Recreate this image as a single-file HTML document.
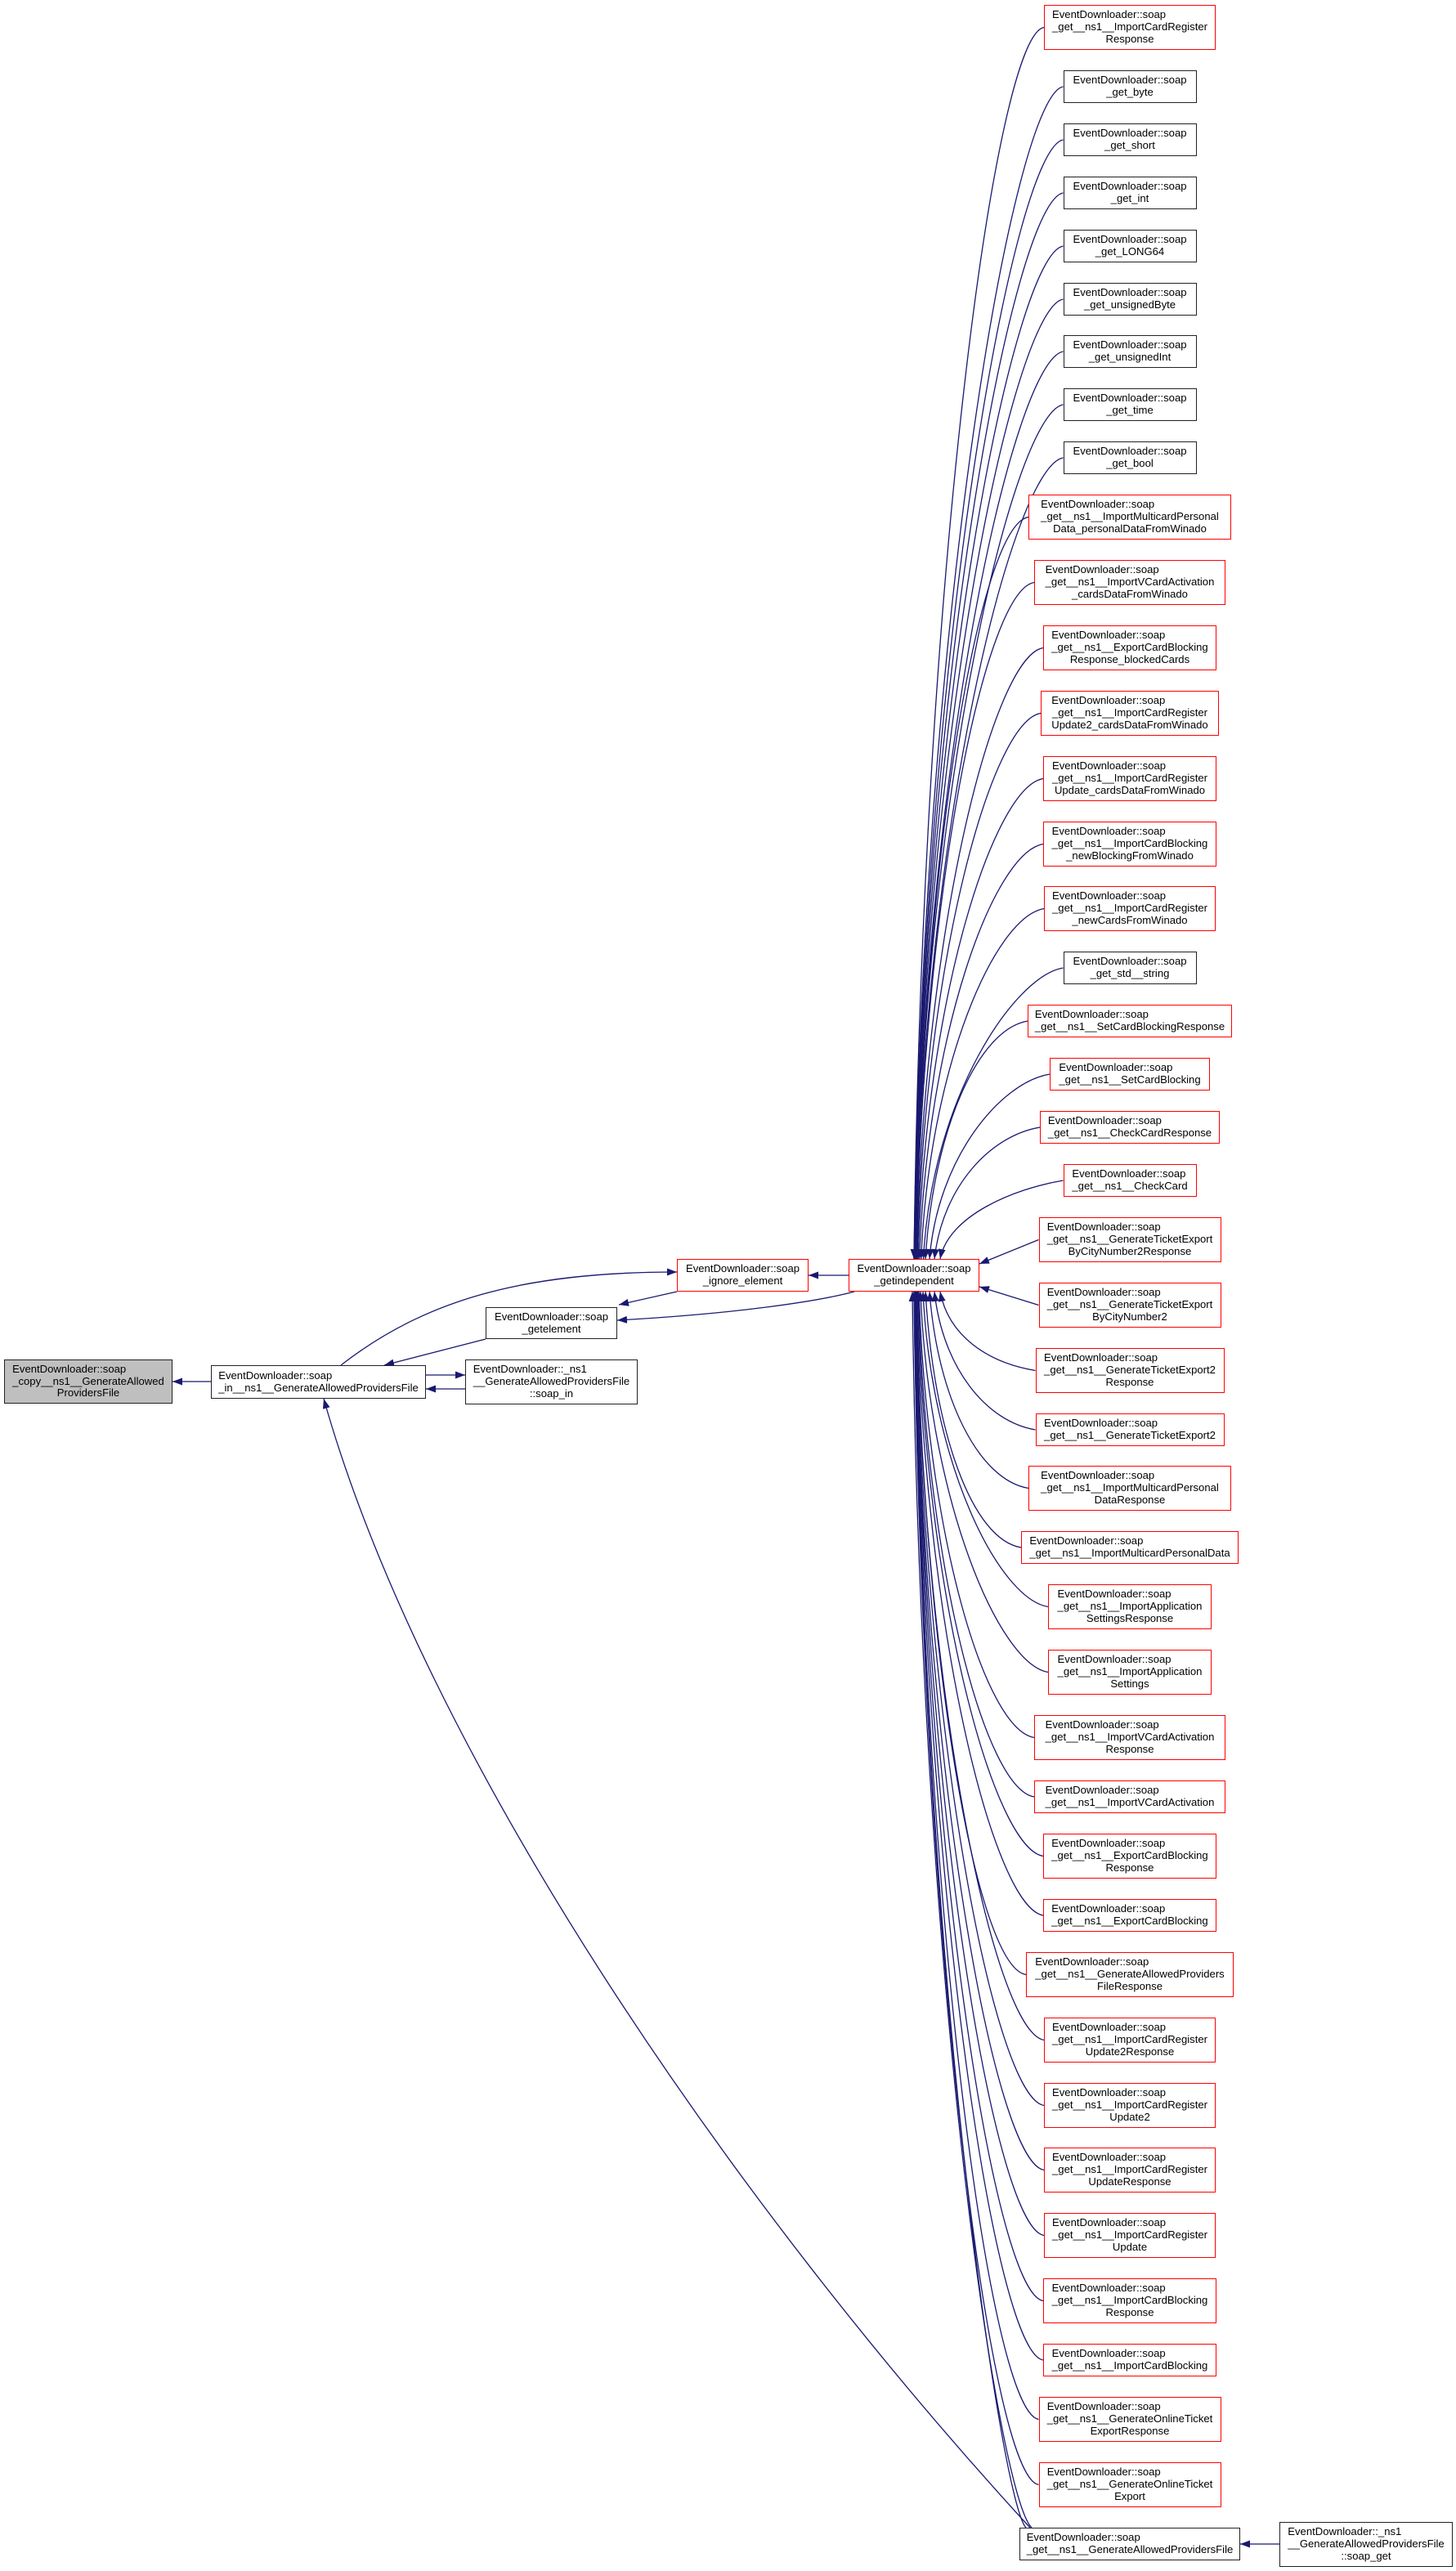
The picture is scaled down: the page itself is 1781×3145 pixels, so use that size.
<!DOCTYPE html>
<html><head><meta charset="utf-8">
<style>
html,body{margin:0;padding:0;background:#fff;}
body{width:1781px;height:3145px;position:relative;overflow:hidden;font-family:"Liberation Sans",Arial,sans-serif;font-size:13.1px;color:#000;}
svg{position:absolute;left:0;top:0;}
.n{position:absolute;box-sizing:border-box;background:#fff;border:1.2px solid #222;display:flex;align-items:center;justify-content:center;white-space:nowrap;line-height:14.7px;}
.r{border-color:#ff0000;}
.g{background:#bfbfbf;}
.t{display:inline-block;}
.t div{text-align:center;}
.t div.a{text-align:left;}
</style></head><body>
<svg width="1781" height="3145" viewBox="0 0 1781 3145">
<defs><marker id="a" viewBox="0 0 12 9" refX="12" refY="4.5" markerWidth="12" markerHeight="9" markerUnits="userSpaceOnUse" orient="auto"><path d="M0,0L12,4.5L0,9z" fill="#191970"/></marker></defs>
<g fill="none" stroke="#191970" stroke-width="1.3" marker-end="url(#a)">
<path d="M258,1690 L211,1690"/>
<path d="M417,1670 C520,1590 640,1556 828,1556"/>
<path d="M594,1638 L470,1670"/>
<path d="M521,1682 L569,1682"/>
<path d="M569,1699 L521,1699"/>
<path d="M828,1580 L757,1596"/>
<path d="M1045,1580 C1000,1592 900,1607 755,1615"/>
<path d="M1038,1560 L989,1560"/>
<path d="M1260,3092 C900,2700 520,2150 396,1711"/>
<path d="M1565,3112 L1517,3112"/>
<path d="M1270.5,1516.5 L1198,1546"/>
<path d="M1270.5,1596.5 L1198,1574"/>
<path d="M1277,33.5 C1217,43.5 1128,711 1118,1540"/>
<path d="M1300.5,106 C1240.5,116 1128,751 1118,1540"/>
<path d="M1300.5,171 C1240.5,181 1128.4,787 1118.4,1540"/>
<path d="M1300.5,236 C1240.5,246 1128.5,823 1118.5,1540"/>
<path d="M1300.5,301 C1240.5,311 1128.6,859 1118.6,1540"/>
<path d="M1300.5,366 C1240.5,376 1128.7,894 1118.7,1540"/>
<path d="M1300.5,430 C1240.5,440 1128.9,930 1118.9,1540"/>
<path d="M1300.5,495 C1240.5,505 1129.1,965 1119.1,1540"/>
<path d="M1300.5,560 C1240.5,570 1129.4,1001 1119.4,1540"/>
<path d="M1258,632.5 C1198,642.5 1129.8,1041 1119.8,1540"/>
<path d="M1265,712.5 C1205,722.5 1130.3,1085 1120.3,1540"/>
<path d="M1276,792.5 C1216,802.5 1131,1129 1121,1540"/>
<path d="M1273,872.5 C1213,882.5 1131.9,1173 1121.9,1540"/>
<path d="M1276,952.5 C1216,962.5 1133,1217 1123,1540"/>
<path d="M1276,1032.5 C1216,1042.5 1134.6,1261 1124.6,1540"/>
<path d="M1277,1111.5 C1217,1121.5 1136.7,1304 1126.7,1540"/>
<path d="M1300.5,1184 C1240.5,1194 1139.5,1344 1129.5,1540"/>
<path d="M1257,1249 C1197,1259 1142,1380 1132,1540"/>
<path d="M1284,1314 C1224,1324 1147,1416 1137,1540"/>
<path d="M1272,1379 C1212,1389 1153,1451 1143,1540"/>
<path d="M1300.5,1444 C1240.5,1454 1160,1487 1150,1540"/>
<path d="M1266.5,1676.5 C1206.5,1666.5 1160,1633 1150,1580"/>
<path d="M1266.5,1749 C1206.5,1739 1153,1673 1143,1580"/>
<path d="M1258,1820.5 C1198,1810.5 1147,1712 1137,1580"/>
<path d="M1249,1893 C1189,1883 1142,1752 1132,1580"/>
<path d="M1282,1965.5 C1222,1955.5 1139,1792 1129,1580"/>
<path d="M1282,2045.5 C1222,2035.5 1136,1836 1126,1580"/>
<path d="M1265,2125.5 C1205,2115.5 1134,1880 1124,1580"/>
<path d="M1265,2198 C1205,2188 1133,1920 1123,1580"/>
<path d="M1276,2270.5 C1216,2260.5 1132,1960 1122,1580"/>
<path d="M1276,2343 C1216,2333 1131,2000 1121,1580"/>
<path d="M1255,2415.5 C1195,2405.5 1130.5,2040 1120.5,1580"/>
<path d="M1277,2495.5 C1217,2485.5 1130,2083 1120,1580"/>
<path d="M1277,2575.5 C1217,2565.5 1129.5,2128 1119.5,1580"/>
<path d="M1277,2654.5 C1217,2644.5 1129,2171 1119,1580"/>
<path d="M1277,2734.5 C1217,2724.5 1129,2215 1119,1580"/>
<path d="M1276,2814.5 C1216,2804.5 1129,2259 1119,1580"/>
<path d="M1276,2887 C1216,2877 1128.5,2299 1118.5,1580"/>
<path d="M1270.5,2959.5 C1210.5,2949.5 1128.5,2339 1118.5,1580"/>
<path d="M1270.5,3039.5 C1210.5,3029.5 1128,2383 1118,1580"/>
<path d="M1255,3092 C1225,3062 1128,2412 1118,1580"/>
<path d="M1262,3092 C1222,3055 1126,2430 1116,1580"/>
</g>
</svg>

<div class="n g" style="left:5px;top:1663px;width:206px;height:54px"><div class="t"><div class="a">EventDownloader::soap</div><div>_copy__ns1__GenerateAllowed</div><div>ProvidersFile</div></div></div>
<div class="n" style="left:258px;top:1670px;width:263px;height:41px"><div class="t"><div class="a">EventDownloader::soap</div><div>_in__ns1__GenerateAllowedProvidersFile</div></div></div>
<div class="n" style="left:594px;top:1599px;width:161px;height:39px"><div class="t"><div class="a">EventDownloader::soap</div><div>_getelement</div></div></div>
<div class="n" style="left:569px;top:1663px;width:211px;height:55px"><div class="t"><div class="a">EventDownloader::_ns1</div><div>__GenerateAllowedProvidersFile</div><div>::soap_in</div></div></div>
<div class="n r" style="left:828px;top:1540px;width:161px;height:40px"><div class="t"><div class="a">EventDownloader::soap</div><div>_ignore_element</div></div></div>
<div class="n r" style="left:1038px;top:1540px;width:160px;height:40px"><div class="t"><div class="a">EventDownloader::soap</div><div>_getindependent</div></div></div>

<div class="n r" style="left:1277px;top:6px;width:210px;height:55px"><div class="t"><div class="a">EventDownloader::soap</div><div>_get__ns1__ImportCardRegister</div><div>Response</div></div></div>
<div class="n" style="left:1300.5px;top:86px;width:163px;height:40px"><div class="t"><div class="a">EventDownloader::soap</div><div>_get_byte</div></div></div>
<div class="n" style="left:1300.5px;top:151px;width:163px;height:40px"><div class="t"><div class="a">EventDownloader::soap</div><div>_get_short</div></div></div>
<div class="n" style="left:1300.5px;top:216px;width:163px;height:40px"><div class="t"><div class="a">EventDownloader::soap</div><div>_get_int</div></div></div>
<div class="n" style="left:1300.5px;top:281px;width:163px;height:40px"><div class="t"><div class="a">EventDownloader::soap</div><div>_get_LONG64</div></div></div>
<div class="n" style="left:1300.5px;top:346px;width:163px;height:40px"><div class="t"><div class="a">EventDownloader::soap</div><div>_get_unsignedByte</div></div></div>
<div class="n" style="left:1300.5px;top:410px;width:163px;height:40px"><div class="t"><div class="a">EventDownloader::soap</div><div>_get_unsignedInt</div></div></div>
<div class="n" style="left:1300.5px;top:475px;width:163px;height:40px"><div class="t"><div class="a">EventDownloader::soap</div><div>_get_time</div></div></div>
<div class="n" style="left:1300.5px;top:540px;width:163px;height:40px"><div class="t"><div class="a">EventDownloader::soap</div><div>_get_bool</div></div></div>
<div class="n r" style="left:1258px;top:605px;width:248px;height:55px"><div class="t"><div class="a">EventDownloader::soap</div><div>_get__ns1__ImportMulticardPersonal</div><div>Data_personalDataFromWinado</div></div></div>
<div class="n r" style="left:1265px;top:685px;width:234px;height:55px"><div class="t"><div class="a">EventDownloader::soap</div><div>_get__ns1__ImportVCardActivation</div><div>_cardsDataFromWinado</div></div></div>
<div class="n r" style="left:1276px;top:765px;width:212px;height:55px"><div class="t"><div class="a">EventDownloader::soap</div><div>_get__ns1__ExportCardBlocking</div><div>Response_blockedCards</div></div></div>
<div class="n r" style="left:1273px;top:845px;width:218px;height:55px"><div class="t"><div class="a">EventDownloader::soap</div><div>_get__ns1__ImportCardRegister</div><div>Update2_cardsDataFromWinado</div></div></div>
<div class="n r" style="left:1276px;top:925px;width:212px;height:55px"><div class="t"><div class="a">EventDownloader::soap</div><div>_get__ns1__ImportCardRegister</div><div>Update_cardsDataFromWinado</div></div></div>
<div class="n r" style="left:1276px;top:1005px;width:212px;height:55px"><div class="t"><div class="a">EventDownloader::soap</div><div>_get__ns1__ImportCardBlocking</div><div>_newBlockingFromWinado</div></div></div>
<div class="n r" style="left:1277px;top:1084px;width:210px;height:55px"><div class="t"><div class="a">EventDownloader::soap</div><div>_get__ns1__ImportCardRegister</div><div>_newCardsFromWinado</div></div></div>
<div class="n" style="left:1300.5px;top:1164px;width:163px;height:40px"><div class="t"><div class="a">EventDownloader::soap</div><div>_get_std__string</div></div></div>
<div class="n r" style="left:1257px;top:1229px;width:250px;height:40px"><div class="t"><div class="a">EventDownloader::soap</div><div>_get__ns1__SetCardBlockingResponse</div></div></div>
<div class="n r" style="left:1284px;top:1294px;width:196px;height:40px"><div class="t"><div class="a">EventDownloader::soap</div><div>_get__ns1__SetCardBlocking</div></div></div>
<div class="n r" style="left:1272px;top:1359px;width:220px;height:40px"><div class="t"><div class="a">EventDownloader::soap</div><div>_get__ns1__CheckCardResponse</div></div></div>
<div class="n r" style="left:1300.5px;top:1424px;width:163px;height:40px"><div class="t"><div class="a">EventDownloader::soap</div><div>_get__ns1__CheckCard</div></div></div>
<div class="n r" style="left:1270.5px;top:1489px;width:223px;height:55px"><div class="t"><div class="a">EventDownloader::soap</div><div>_get__ns1__GenerateTicketExport</div><div>ByCityNumber2Response</div></div></div>
<div class="n r" style="left:1270.5px;top:1569px;width:223px;height:55px"><div class="t"><div class="a">EventDownloader::soap</div><div>_get__ns1__GenerateTicketExport</div><div>ByCityNumber2</div></div></div>
<div class="n r" style="left:1266.5px;top:1649px;width:231px;height:55px"><div class="t"><div class="a">EventDownloader::soap</div><div>_get__ns1__GenerateTicketExport2</div><div>Response</div></div></div>
<div class="n r" style="left:1266.5px;top:1729px;width:231px;height:40px"><div class="t"><div class="a">EventDownloader::soap</div><div>_get__ns1__GenerateTicketExport2</div></div></div>
<div class="n r" style="left:1258px;top:1793px;width:248px;height:55px"><div class="t"><div class="a">EventDownloader::soap</div><div>_get__ns1__ImportMulticardPersonal</div><div>DataResponse</div></div></div>
<div class="n r" style="left:1249px;top:1873px;width:266px;height:40px"><div class="t"><div class="a">EventDownloader::soap</div><div>_get__ns1__ImportMulticardPersonalData</div></div></div>
<div class="n r" style="left:1282px;top:1938px;width:200px;height:55px"><div class="t"><div class="a">EventDownloader::soap</div><div>_get__ns1__ImportApplication</div><div>SettingsResponse</div></div></div>
<div class="n r" style="left:1282px;top:2018px;width:200px;height:55px"><div class="t"><div class="a">EventDownloader::soap</div><div>_get__ns1__ImportApplication</div><div>Settings</div></div></div>
<div class="n r" style="left:1265px;top:2098px;width:234px;height:55px"><div class="t"><div class="a">EventDownloader::soap</div><div>_get__ns1__ImportVCardActivation</div><div>Response</div></div></div>
<div class="n r" style="left:1265px;top:2178px;width:234px;height:40px"><div class="t"><div class="a">EventDownloader::soap</div><div>_get__ns1__ImportVCardActivation</div></div></div>
<div class="n r" style="left:1276px;top:2243px;width:212px;height:55px"><div class="t"><div class="a">EventDownloader::soap</div><div>_get__ns1__ExportCardBlocking</div><div>Response</div></div></div>
<div class="n r" style="left:1276px;top:2323px;width:212px;height:40px"><div class="t"><div class="a">EventDownloader::soap</div><div>_get__ns1__ExportCardBlocking</div></div></div>
<div class="n r" style="left:1255px;top:2388px;width:254px;height:55px"><div class="t"><div class="a">EventDownloader::soap</div><div>_get__ns1__GenerateAllowedProviders</div><div>FileResponse</div></div></div>
<div class="n r" style="left:1277px;top:2468px;width:210px;height:55px"><div class="t"><div class="a">EventDownloader::soap</div><div>_get__ns1__ImportCardRegister</div><div>Update2Response</div></div></div>
<div class="n r" style="left:1277px;top:2548px;width:210px;height:55px"><div class="t"><div class="a">EventDownloader::soap</div><div>_get__ns1__ImportCardRegister</div><div>Update2</div></div></div>
<div class="n r" style="left:1277px;top:2627px;width:210px;height:55px"><div class="t"><div class="a">EventDownloader::soap</div><div>_get__ns1__ImportCardRegister</div><div>UpdateResponse</div></div></div>
<div class="n r" style="left:1277px;top:2707px;width:210px;height:55px"><div class="t"><div class="a">EventDownloader::soap</div><div>_get__ns1__ImportCardRegister</div><div>Update</div></div></div>
<div class="n r" style="left:1276px;top:2787px;width:212px;height:55px"><div class="t"><div class="a">EventDownloader::soap</div><div>_get__ns1__ImportCardBlocking</div><div>Response</div></div></div>
<div class="n r" style="left:1276px;top:2867px;width:212px;height:40px"><div class="t"><div class="a">EventDownloader::soap</div><div>_get__ns1__ImportCardBlocking</div></div></div>
<div class="n r" style="left:1270.5px;top:2932px;width:223px;height:55px"><div class="t"><div class="a">EventDownloader::soap</div><div>_get__ns1__GenerateOnlineTicket</div><div>ExportResponse</div></div></div>
<div class="n r" style="left:1270.5px;top:3012px;width:223px;height:55px"><div class="t"><div class="a">EventDownloader::soap</div><div>_get__ns1__GenerateOnlineTicket</div><div>Export</div></div></div>
<div class="n" style="left:1247px;top:3092px;width:270px;height:40px"><div class="t"><div class="a">EventDownloader::soap</div><div>_get__ns1__GenerateAllowedProvidersFile</div></div></div>
<div class="n" style="left:1565px;top:3085px;width:212px;height:55px"><div class="t"><div class="a">EventDownloader::_ns1</div><div>__GenerateAllowedProvidersFile</div><div>::soap_get</div></div></div>
</body></html>
